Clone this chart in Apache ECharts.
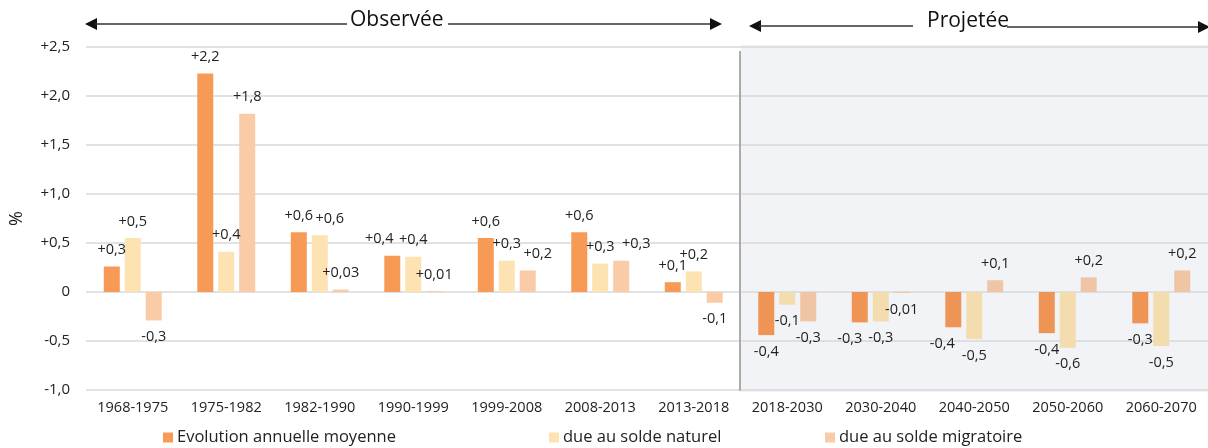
<!DOCTYPE html>
<html>
<head>
<meta charset="utf-8">
<script src="https://cdn.jsdelivr.net/npm/echarts@6/dist/echarts.min.js"></script>
<style>
  html, body { margin: 0; padding: 0; background: #fff; }
  #chart { width: 1208px; height: 448px; }
</style>
</head>
<body>
<div id="chart"></div>
<script>
// periods (first 7 observed, last 5 projected)
const periods = ["1968-1975", "1975-1982", "1982-1990", "1990-1999", "1999-2008", "2008-2013", "2013-2018",
  "2018-2030", "2030-2040", "2040-2050", "2050-2060", "2060-2070"];
const observedCount = 7;

const evolution = [0.26, 2.23, 0.61, 0.37, 0.55, 0.61, 0.10, -0.44, -0.31, -0.36, -0.42, -0.32];
const naturel = [0.55, 0.41, 0.58, 0.36, 0.32, 0.29, 0.21, -0.13, -0.30, -0.48, -0.57, -0.55];
const migratoire = [-0.29, 1.82, 0.025, 0.01, 0.22, 0.32, -0.11, -0.30, -0.01, 0.12, 0.15, 0.22];

// labels as printed on the chart
const evolutionLabels = ["+0,3", "+2,2", "+0,6", "+0,4", "+0,6", "+0,6", "+0,1", "-0,4", "-0,3", "-0,4", "-0,4", "-0,3"];
const naturelLabels = ["+0,5", "+0,4", "+0,6", "+0,4", "+0,3", "+0,3", "+0,2", "-0,1", "-0,3", "-0,5", "-0,6", "-0,5"];
const migratoireLabels = ["-0,3", "+1,8", "+0,03", "+0,01", "+0,2", "+0,3", "-0,1", "-0,3", "-0,01", "+0,1", "+0,2", "+0,2"];

const names = ["Evolution annuelle moyenne", "due au solde naturel", "due au solde migratoire"];

// label nudges (layout only)
const labelShift = {
  0: { 3: -13, 8: -10, 9: -11 },
  1: { 2: 10 },
  2: { 4: 10, 5: 15 },
};

const colors = ["#F79A55", "#FDE3B2", "#FACBA7"];
const projColors = ["#EE9556", "#F3DCAE", "#F0C5A5"];
const FONT = "Open Sans";

const chart = echarts.init(document.getElementById("chart"));

function fmtAxis(v) {
  if (v === 0) return "0";
  const s = Math.abs(v).toFixed(1).replace(".", ",");
  return (v > 0 ? "+" : "-") + s;
}

function buildSeries(idx, values, labels) {
  return {
    name: names[idx],
    type: "bar",
    barWidth: 16,
    barGap: "31%",
    itemStyle: { color: colors[idx] },
    data: values.map((v, i) => {
      const dx = (labelShift[idx] && labelShift[idx][i]) || 0;
      const item = {
        value: v,
        label: {
          show: true,
          position: v >= 0 ? "top" : "bottom",
          distance: 9,
          offset: [dx, 0],
          formatter: labels[i],
        },
      };
      if (i >= observedCount) item.itemStyle = { color: projColors[idx] };
      return item;
    }),
    label: {
      fontFamily: FONT,
      fontSize: 14.5,
      color: "#222",
    },
  };
}

function legendAt(name, left) {
  return {
    data: [name],
    left: left,
    top: 429,
    icon: "rect",
    itemWidth: 10,
    itemHeight: 10,
    itemGap: 0,
    padding: 0,
    selectedMode: false,
    textStyle: { fontFamily: FONT, fontSize: 16.5, color: "#222", padding: [0, 0, 0, -1] },
  };
}

const gridLeft = 81, gridTop = 47, gridWidth = 1132, gridBottom = 58;

chart.setOption({
  backgroundColor: "#fff",
  animation: false,
  textStyle: { fontFamily: FONT },
  grid: { left: gridLeft, top: gridTop, width: gridWidth, bottom: gridBottom, containLabel: false },
  legend: [legendAt(names[0], 163), legendAt(names[1], 549), legendAt(names[2], 825)],
  xAxis: {
    type: "category",
    data: periods,
    position: "bottom",
    axisLine: { show: false, onZero: false },
    axisTick: { show: false },
    axisLabel: { fontFamily: FONT, fontSize: 14.5, color: "#222", margin: 10, interval: 0 },
  },
  yAxis: {
    type: "value",
    min: -1,
    max: 2.5,
    interval: 0.5,
    name: "%",
    nameLocation: "middle",
    nameRotate: 90,
    nameGap: 60,
    nameTextStyle: { fontFamily: FONT, fontSize: 18, color: "#222" },
    axisLine: { show: false },
    axisTick: { show: false },
    axisLabel: { fontFamily: FONT, fontSize: 15, color: "#222", margin: 16, formatter: fmtAxis },
    splitLine: { lineStyle: { color: "#D9D9D9", width: 1.5 } },
  },
  series: [
    buildSeries(0, evolution, evolutionLabels),
    buildSeries(1, naturel, naturelLabels),
    buildSeries(2, migratoire, migratoireLabels),
  ],
});

// projected zone + period arrows
const band = gridWidth / periods.length;
const splitX = Math.round(gridLeft + band * observedCount);
const arrowColor = "#333";

function arrowHead(x, y, dir) {
  return {
    type: "polygon",
    z: 10,
    shape: { points: [[x, y], [x - dir * 12, y - 6], [x - dir * 12, y + 6]] },
    style: { fill: "#111" },
  };
}
function hline(x1, x2, y) {
  return {
    type: "line",
    z: 10,
    shape: { x1: x1, y1: y, x2: x2, y2: y },
    style: { stroke: arrowColor, lineWidth: 1.5 },
  };
}

chart.setOption({
  graphic: [
    {
      type: "rect",
      z: -10,
      shape: { x: splitX, y: 45, width: 1208 - splitX, height: 347 },
      style: { fill: "#F2F3F7" },
    },
    {
      type: "line",
      z: 10,
      shape: { x1: splitX - 1, y1: 51, x2: splitX - 1, y2: 391 },
      style: { stroke: "#ABABAB", lineWidth: 2 },
    },
    arrowHead(85, 24, -1),
    hline(95, 347, 24),
    { type: "text", z: 10, left: 350, top: 10, style: { text: "Observée", font: "21px 'Open Sans'", fill: "#111" } },
    hline(448, 712, 24),
    arrowHead(722, 24, 1),
    arrowHead(749, 26, -1),
    hline(759, 913, 26),
    { type: "text", z: 10, left: 927, top: 11, style: { text: "Projetée", font: "21px 'Open Sans'", fill: "#111" } },
    hline(1007, 1198, 27),
    arrowHead(1210, 27, 1),
  ],
});
</script>
</body>
</html>
